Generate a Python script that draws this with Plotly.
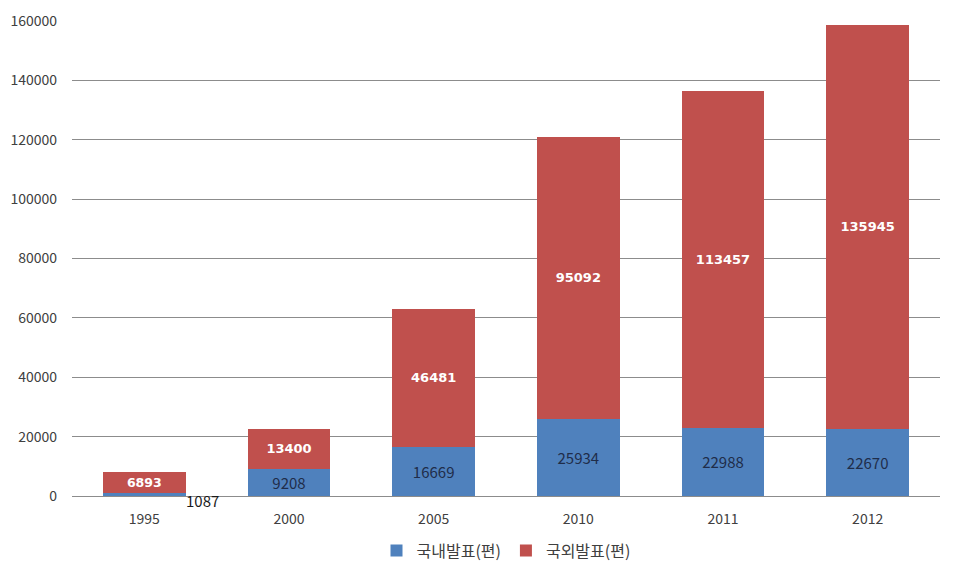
import plotly.graph_objects as go

years = ["1995", "2000", "2005", "2010", "2011", "2012"]
domestic = [1087, 9208, 16669, 25934, 22988, 22670]
foreign = [6893, 13400, 46481, 95092, 113457, 135945]
series_names = ["국내발표(편)", "국외발표(편)"]
y_ticks = [0, 20000, 40000, 60000, 80000, 100000, 120000, 140000, 160000]

blue = "#4F81BD"
red = "#C0504D"
font_family = "Noto Sans CJK KR, Noto Sans, sans-serif"

# small segments whose label sits outside the bar
dom_text = [str(v) if v > 5000 else "" for v in domestic]

fig = go.Figure()
fig.add_trace(go.Bar(
    x=years, y=domestic, name=series_names[0], marker=dict(color=blue, line=dict(width=0)),
    text=dom_text, textposition="inside", insidetextanchor="middle",
    textfont=dict(color="#1F2D4A", size=15, family=font_family), textangle=0,
))
fig.add_trace(go.Bar(
    x=years, y=foreign, name=series_names[1], marker=dict(color=red, line=dict(width=0)),
    text=[str(v) for v in foreign], textposition="inside", insidetextanchor="middle",
    textfont=dict(color="white", size=13, family="DejaVu Sans, sans-serif", weight="bold"), textangle=0,
))

for i, (yr, v) in enumerate(zip(years, domestic)):
    if v <= 5000:
        fig.add_annotation(x=i, y=v, xref="x", yref="y", text=str(v), showarrow=False,
                           xshift=58, yshift=-8, xanchor="center", yanchor="middle",
                           font=dict(size=15, color="#1a1a1a", family=font_family))

fig.update_layout(
    barmode="stack", bargap=0.43,
    width=956, height=569,
    margin=dict(l=64, r=24, t=13, b=81, autoexpand=False),
    paper_bgcolor="white", plot_bgcolor="white",
    font=dict(family=font_family, size=14, color="#404040"),
    showlegend=True,
    legend=dict(orientation="h", x=0.5, xanchor="center", y=-0.115, yanchor="middle",
                font=dict(size=16, color="#404040"), itemwidth=30, traceorder="normal",
                tracegroupgap=0),
)
fig.update_xaxes(type="category", showgrid=False, showline=False, ticks="", ticklabelstandoff=13,
                 tickfont=dict(size=14, color="#404040"), automargin=False)
fig.update_yaxes(range=[0, 160000], tickvals=y_ticks, ticktext=[str(t) for t in y_ticks],
                 showgrid=True, gridcolor="#8C8C8C", gridwidth=1, zeroline=True,
                 zerolinecolor="#8C8C8C", zerolinewidth=1, showline=False, ticks="",
                 ticklabelstandoff=14, tickfont=dict(size=14, color="#404040"), automargin=False)

fig.write_html("out.html")
